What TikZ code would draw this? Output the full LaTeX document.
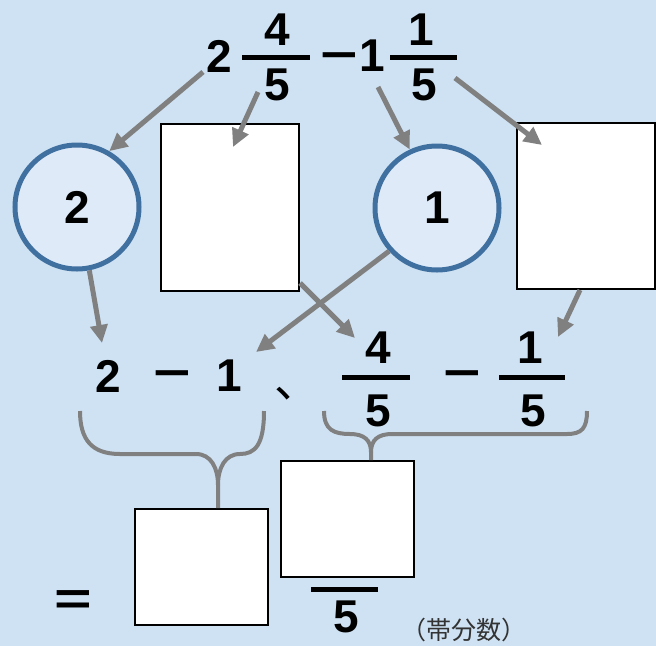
\documentclass[tikz,border=0pt]{standalone}
\usepackage{fontspec}
\setmainfont{Liberation Sans}
\newfontfamily\cjk{Noto Sans CJK JP}
\usetikzlibrary{arrows.meta}
\definecolor{bgblue}{RGB}{207,226,243}
\definecolor{ringblue}{RGB}{64,112,160}
\definecolor{ringfill}{RGB}{222,234,247}
\definecolor{arrgray}{RGB}{128,128,128}
\newcommand{\numfont}{\fontsize{46}{46}\selectfont\bfseries}
\newcommand{\wide}[1]{\scalebox{1.4}[1]{#1}}
\begin{document}
\begin{tikzpicture}[x=1pt, y=-1pt, font=\numfont, inner sep=0pt,
  ring/.style={circle, draw=ringblue, fill=ringfill, line width=5pt, minimum size=124pt},
  blank/.style={rectangle, draw=black, fill=white, line width=2pt},
  arr/.style={draw=arrgray, line width=5pt, -{Triangle[length=18pt,width=17pt]}},
  brace/.style={draw=arrgray, line width=4pt},
  bar/.style={line width=5pt}]
\fill[bgblue] (0,0) rectangle (656,646);
\useasboundingbox (0,0) rectangle (656,646);
% top line
\node (t2) at (219,56) {2};
\node (t4) at (277,30) {4};
\node (t5a) at (277,85) {5};
\draw[bar] (242,57) -- (310,57);
\node (tm) [anchor=base] at (339,70) {\wide{−}};
\node (t1) at (372,56) {1};
\node (t1n) at (421,30) {1};
\node (t5b) at (424,85) {5};
\draw[bar] (390,57) -- (457,57);
% circles and boxes
\node (c2) [ring] at (77,207) {2};
\node (c1) [ring] at (437,208) {1};
\node (b1) [blank, minimum width=138pt, minimum height=167pt] at (230,207.5) {};
\node (b2) [blank, minimum width=138pt, minimum height=166pt] at (586,206) {};
% middle line
\node (m2) at (108,376) {2};
\node (mm) [anchor=base] at (172,388) {\wide{−}};
\node (m1) at (229,376) {1};
\node (mc) [anchor=base west, font=\cjk\fontsize{46}{46}\selectfont] at (274,397) {、};
\node (m4) at (378,348) {4};
\node (m5a) at (378,411) {5};
\draw[bar] (342,377) -- (410,377);
\node (mm2) [anchor=base] at (462,388) {\wide{−}};
\node (m1n) at (530,348) {1};
\node (m5b) at (533,411) {5};
\draw[bar] (499,377) -- (565,377);
% arrows
\coordinate (pA) at (203,72);
\coordinate (pB) at (258,92);
\coordinate (qB) at (233,147);
\coordinate (pC) at (378,87);
\coordinate (pD) at (455,78);
\coordinate (qD) at (542,145);
\coordinate (qE) at (102,343);
\coordinate (qF) at (256,352);
\coordinate (qG) at (355,338);
\coordinate (qH) at (558,337);
\draw[arr] (pA) -- (c2.60);
\draw[arr] (pB) -- (qB);
\draw[arr] (pC) -- (c1.115);
\draw[arr] (pD) -- (qD);
\draw[arr] (c2.-79) -- (qE);
\draw[arr] (c1.222) -- (qF);
\draw[arr] ([yshift=9pt]b1.south east) -- (qG);
\draw[arr] ([xshift=-6pt]b2.south) -- (qH);
% bottom
\node (b3) [blank, minimum width=133pt, minimum height=116pt] at (201.5,567) {};
\node (b4) [blank, minimum width=133pt, minimum height=116pt] at (347.5,519) {};
\draw[brace] (80,411) .. controls (80,440) and (92,454) .. (120,454) -- (196,454)
  .. controls (211,454) and (218,468) .. (218,485) -- (b3.north -| 218,0);
\draw[brace] (264,411) .. controls (264,445) and (255,454) .. (240,454)
  .. controls (225,454) and (218,468) .. (218,485);
\draw[brace] (324,411) .. controls (324,430) and (334,434) .. (350,434)
  .. controls (364,434) and (371,440) .. (371,452) -- (b4.north -| 371,0);
\draw[brace] (587,411) .. controls (587,428) and (582,434) .. (567,434) -- (392,434)
  .. controls (378,434) and (371,440) .. (371,452);
\node (eq) [anchor=base] at (73,614) {\wide{=}};
\draw[bar] (311,589) -- (378,589);
\node (d5) at (346,617) {5};
\node (note) [font=\cjk\fontsize{25}{25}\selectfont, text=black!80] at (464,630) {（帯分数）};
\end{tikzpicture}
\end{document}
